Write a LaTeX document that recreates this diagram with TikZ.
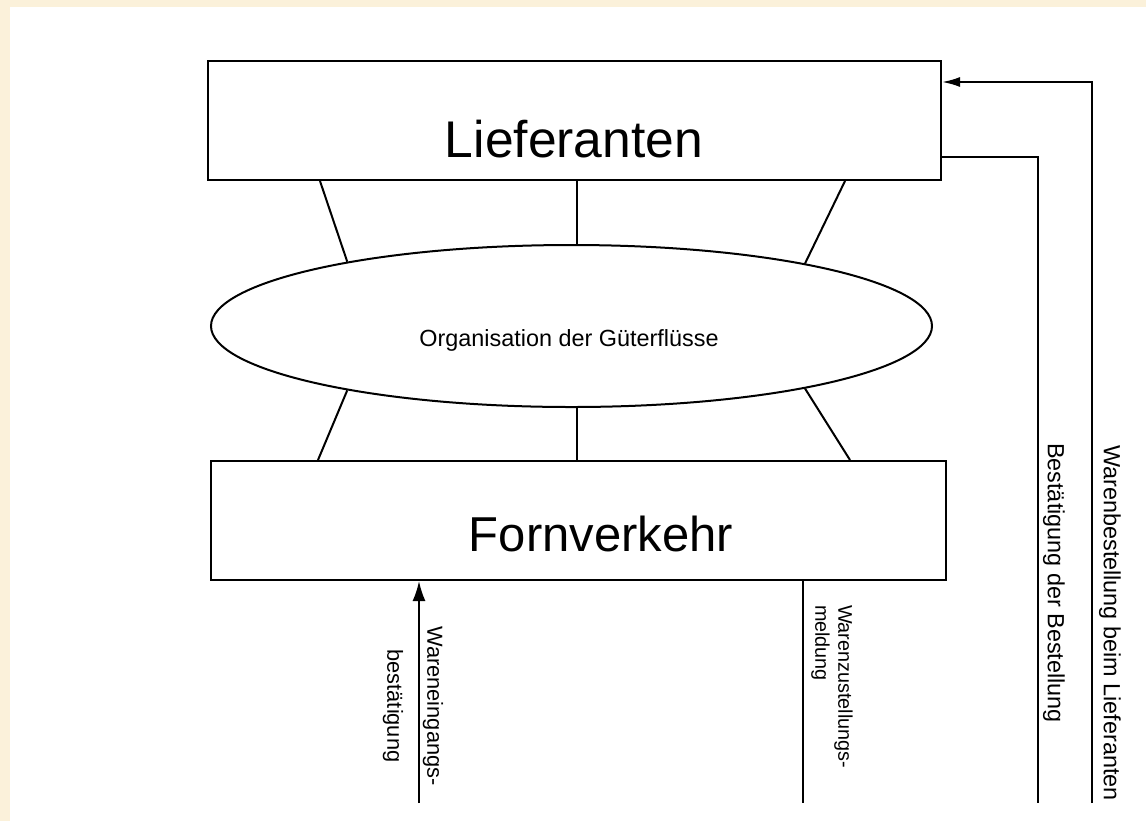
\documentclass[tikz,border=0pt]{standalone}
\usepackage{fontspec}
\setmainfont{Liberation Sans}
\usetikzlibrary{shapes.geometric,arrows.meta}
\definecolor{paper}{RGB}{251,241,218}
\begin{document}
\begin{tikzpicture}[x=0.5pt,y=-0.5pt,
  line width=1pt,
  blockbox/.style={draw, rectangle, inner sep=0pt, minimum width=#1},
  blockbox/.default=366.5pt,
  flowoval/.style={draw, ellipse, inner sep=0pt, minimum width=360.5pt, minimum height=81pt},
  bigtext/.style={inner sep=0pt, anchor=base, font=\fontsize{25.8}{30}\selectfont},
  midtext/.style={inner sep=0pt, font=\fontsize{11.7}{14}\selectfont},
  vlabel/.style={inner sep=0pt, rotate=-90},
  flow/.style={line width=1pt},
  tip/.style={-{Latex[length=9pt,width=5pt]}}
]
% paper and page
\fill[paper] (0,0) rectangle (1146,821);
\fill[white] (10,7) rectangle (1146,821);

% main blocks
\node[blockbox=366.5pt, minimum height=59.5pt] (lief) at (574.5,120.5) {};
\node[blockbox=367.5pt, minimum height=59.5pt] (fern) at (578.5,520.5) {};
\node[flowoval] (org) at (571.5,326) {};

\node[bigtext] (liefText) at (574,157) {Lieferanten};
\node[bigtext, font=\fontsize{24.5}{29}\selectfont] (fernText) at (601,551) {Fornverkehr};
\node[midtext, anchor=base] (orgText) at (569,346) {Organisation der Güterflüsse};

% links between the blocks and the oval
\draw[flow] (lief.south -| 577,0) -- (org.north -| 577,0);
\draw[flow] (org.south -| 577,0) -- (fern.north -| 577,0);
\draw[flow] (lief.south -| 320,0) -- (org.164.3);
\draw[flow] (lief.south -| 845,0) -- (org.15.8);
\draw[flow] (org.196.3) -- (fern.north -| 318,0);
\draw[flow] (org.345.6) -- (fern.north -| 850,0);

% open ends of the information flows
\coordinate (orderEnd) at (1092,803);
\coordinate (confirmEnd) at (1038,803);
\coordinate (receiptEnd) at (419,803);
\coordinate (deliveryEnd) at (803,803);

\draw[flow, tip] (orderEnd) |- (lief.east |- 0,82);
\draw[flow] (lief.east |- 0,157) -| (confirmEnd);
\draw[flow, -{Latex[length=10pt,width=6.5pt]}] (receiptEnd) -- (fern.south -| 419,0);
\draw[flow] (fern.south -| 803,0) -- (deliveryEnd);

% labels along the flows
\node[vlabel, midtext] (orderText) at (1110,623) {Warenbestellung beim Lieferanten};
\node[vlabel, midtext] (confirmText) at (1054,583) {Bestätigung der Bestellung};
\node[vlabel, align=center, font=\fontsize{10.9}{20}\selectfont] (receiptText) at (413,706) {Wareneingangs-\\bestätigung};
\node[vlabel, anchor=west, align=left, font=\fontsize{9.9}{11.5}\selectfont] (deliveryText) at (832,604) {Warenzustellungs-\\meldung};
\end{tikzpicture}
\end{document}
